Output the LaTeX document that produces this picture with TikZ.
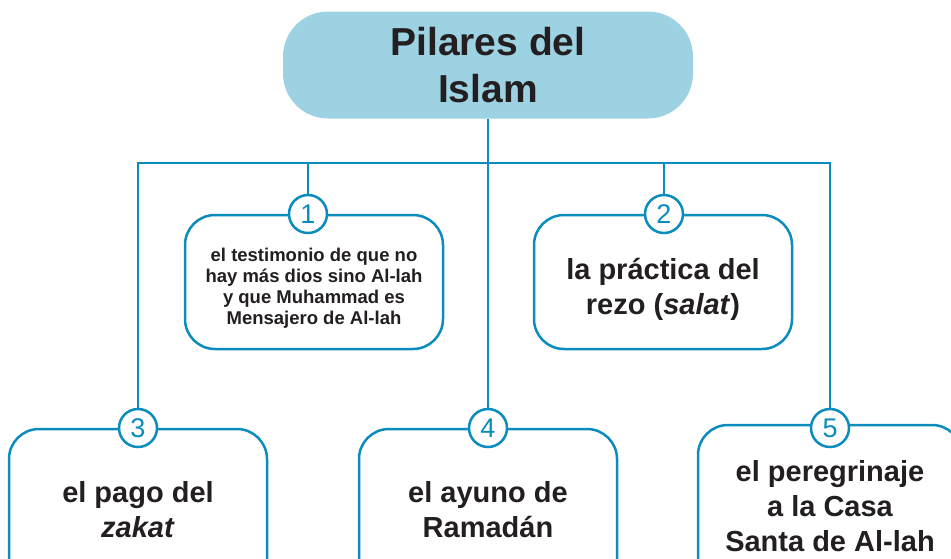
\documentclass[tikz,border=0pt]{standalone}
\usepackage{fontspec}
\setmainfont{Liberation Sans}
\usetikzlibrary{positioning}
\definecolor{pilarblue}{RGB}{10,140,190}
\definecolor{pilarfill}{RGB}{157,210,227}
\definecolor{pilartext}{RGB}{35,31,32}
\tikzset{
  enlace/.style={draw=pilarblue, line width=2.5pt},
  pilar/.style={draw=pilarblue, line width=2.5pt, fill=white, rounded corners=30pt,
    align=center, text=pilartext, inner sep=0pt,
    font=\bfseries\fontsize{29}{35}\selectfont,
    minimum width=258pt, minimum height=134pt},
  texto/.style={align=center, text=pilartext, inner sep=0pt,
    font=\bfseries\fontsize{29}{35}\selectfont},
  numero/.style={circle, draw=pilarblue, line width=2.5pt, fill=white,
    text=pilarblue, minimum size=38pt, inner sep=0pt,
    font=\fontsize{27}{27}\selectfont},
}

\begin{document}
\begin{tikzpicture}[x=1pt,y=1pt]
    \clip (0,0) rectangle (951,-558);
    % titulo
    \node[fill=pilarfill, rounded corners=45pt, minimum width=410pt, minimum height=107pt,
      align=center, text=pilartext, font=\bfseries\fontsize{39}{47}\selectfont]
      (titulo) at (488,-65) {Pilares del\\Islam};
    \coordinate (barra) at (488,-163);
    % pilares
    \node[pilar] (p1) at (314,-282) {};
    \node[texto, font=\bfseries\fontsize{18.5}{21}\selectfont] (t1) at ([yshift=-6pt]p1.center)
      {el testimonio de que no\\hay más dios sino Al-lah\\y que Muhammad es\\Mensajero de Al-lah};
    \node[pilar] (p2) at (663,-282) {};
    \node[texto] (t2) at ([yshift=-7pt]p2.center) {la práctica del\\rezo (\textit{salat})};
    \node[pilar, minimum height=162pt] (p3) at (138,-510) {el pago del\\\textit{zakat}};
    \node[pilar, minimum height=162pt] (p4) at (488,-510) {el ayuno de\\Ramadán};
    \node[pilar, minimum height=162pt, minimum width=264pt] (p5) at (830,-506)
      {el peregrinaje\\a la Casa\\Santa de Al-lah};
    % numeros
    \node[numero] (c1) at (308,-214) {1};
    \node[numero] (c2) at (664,-214) {2};
    \node[numero] (c3) at (138,-428) {3};
    \node[numero] (c4) at (488,-428) {4};
    \node[numero] (c5) at (830,-428) {5};
    % enlaces
    \draw[enlace] (titulo.south) -- (c4.north);
    \draw[enlace] (c3.north) |- (barra) -| (c5.north);
    \draw[enlace] (c1.north) -- (c1.north |- barra);
    \draw[enlace] (c2.north) -- (c2.north |- barra);
\end{tikzpicture}
\end{document}
